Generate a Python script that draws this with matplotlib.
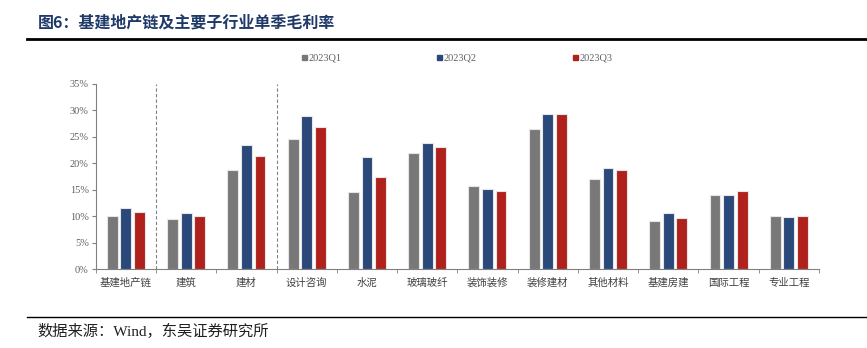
import matplotlib.pyplot as plt
import matplotlib as mpl
import numpy as np

mpl.rcParams['font.family'] = ['Liberation Serif', 'Noto Sans CJK SC']

# data
categories = ['基建地产链', '建筑', '建材', '设计咨询', '水泥', '玻璃玻纤',
              '装饰装修', '装修建材', '其他材料', '基建房建', '国际工程', '专业工程']
series_names = ['2023Q1', '2023Q2', '2023Q3']
q1 = [10.0, 9.4, 18.7, 24.6, 14.6, 21.9, 15.7, 26.5, 17.0, 9.2, 14.1, 10.0]
q2 = [11.6, 10.6, 23.4, 29.0, 21.2, 23.8, 15.2, 29.2, 19.1, 10.6, 14.0, 9.9]
q3 = [10.8, 10.0, 21.3, 26.9, 17.4, 23.1, 14.8, 29.2, 18.7, 9.7, 14.8, 10.0]
colors = ['#787878', '#2a4879', '#b0211b']

fig = plt.figure(figsize=(8.67, 3.48), dpi=100)
ax = fig.add_axes([0.1104, 0.2261, 0.8342, 0.5334])

x = np.arange(len(categories))
w = 0.18
step = 0.225
for i, (vals, c) in enumerate(zip([q1, q2, q3], colors)):
    ax.bar(x + (i - 1) * step, vals, width=w, color=c,
           edgecolor='#e6e6e6', linewidth=0.8, label=series_names[i], zorder=2)

# dashed separators
for xv in [0.5, 2.5]:
    ax.axvline(xv, color='#808080', linestyle=(0, (3, 2)), linewidth=0.8, zorder=1)

ax.set_xlim(-0.5, len(categories) - 0.5)
ax.set_ylim(0, 35)
ax.set_yticks(np.arange(0, 36, 5))
ax.set_yticklabels([f'{v}%' for v in range(0, 36, 5)])
ax.set_xticks(x)
ax.set_xticklabels(categories, family='Noto Sans CJK SC', fontsize=7.5, color='#404040')
ax.set_xticks(np.arange(-0.5, len(categories)), minor=True)
ax.tick_params(axis='x', which='major', length=0, pad=6)
ax.tick_params(axis='x', which='minor', length=3, color='#808080', direction='out')
ax.tick_params(axis='y', length=3, color='#808080', labelsize=7.5, labelcolor='#606060', pad=2)

for s in ['top', 'right']:
    ax.spines[s].set_visible(False)
ax.spines['left'].set_color('#808080')
ax.spines['bottom'].set_color('#808080')

# legend
leg_x = [302, 437, 573]
for lx, name, c in zip(leg_x, series_names, colors):
    fig.patches.append(mpl.patches.Rectangle((lx / 867, 1 - 60 / 348), 5 / 867, 5 / 348,
                                             transform=fig.transFigure, color=c))
    fig.text((lx + 7) / 867, 1 - 57.5 / 348, name, fontsize=7.5, color='#606060', va='center')

# title and rules
fig.text(38 / 867, 1 - 23 / 348, '图6：基建地产链及主要子行业单季毛利率', family='Noto Sans CJK SC',
         fontsize=11.5, fontweight='bold', color='#1f3a68', va='center')
fig.add_artist(plt.Line2D([27 / 867, 1], [1 - 39 / 348] * 2, color='black', linewidth=2,
                          transform=fig.transFigure))
fig.add_artist(plt.Line2D([27 / 867, 1], [1 - 317 / 348] * 2, color='black', linewidth=1,
                          transform=fig.transFigure))
fig.text(37 / 867, 1 - 331 / 348, '数据来源：Wind，东吴证券研究所',
         fontsize=11, color='#202020', va='center')

fig.savefig('out.png', dpi=100)
